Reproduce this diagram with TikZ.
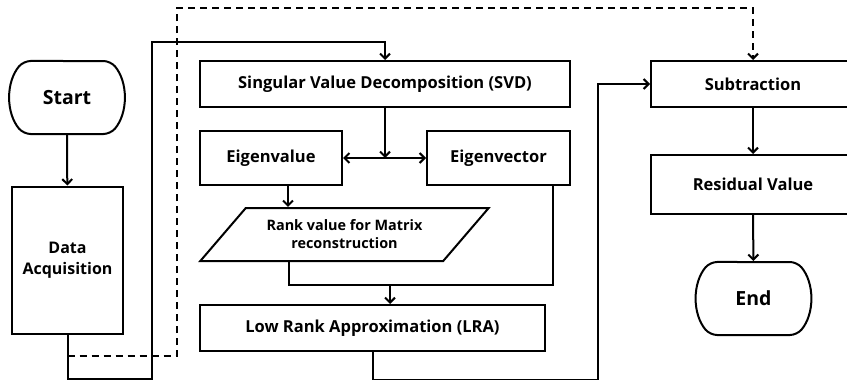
\documentclass[tikz,border=0pt]{standalone}
\usepackage{fontspec}
\setmainfont{Open Sans}
\usetikzlibrary{shapes.misc,shapes.geometric,arrows.meta}

\begin{document}
\begin{tikzpicture}[x=1pt,y=-1pt,->,>={Straight Barb[length=5pt,width=10pt]},line width=2pt,
    box/.style={rectangle,draw,inner sep=2pt,align=center,font=\bfseries\fontsize{16.5}{21}\selectfont},
    term/.style={rounded rectangle,rounded rectangle arc length=80,draw,rounded corners=7pt,minimum width=110,minimum height=73,inner sep=0pt,font=\bfseries\fontsize{19.5}{22}\selectfont}]
    \useasboundingbox (0,0) rectangle (847,380);

    \node[term] (start) at (67,97.5) {Start};
    \node[box, minimum width=111, minimum height=147, font=\bfseries\fontsize{16}{21}\selectfont] (acq) at (67.5,260) {Data\\Acquisition};
    \node[box, minimum width=370, minimum height=46] (svd) at (385,84) {Singular Value Decomposition (SVD)};
    \node[box, minimum width=142, minimum height=54] (eigval) at (271,158) {Eigenvalue};
    \node[box, minimum width=143, minimum height=54] (eigvec) at (498.5,158) {Eigenvector};
    \node[box, trapezium, trapezium left angle=42, trapezium right angle=138, trapezium stretches=true,
          minimum width=289, minimum height=53, font=\bfseries\fontsize{14.4}{18}\selectfont] (rank) at (344.5,234.5) {Rank value for Matrix\\reconstruction};
    \node[box, minimum width=345, minimum height=46] (lra) at (372.5,328) {Low Rank Approximation (LRA)};
    \node[box, minimum width=204, minimum height=46] (sub) at (753,84) {Subtraction};
    \node[box, minimum width=204, minimum height=59] (res) at (753,184.5) {Residual Value};
    \node[term] (end) at (753.5,298.5) {End};
    \coordinate (merge) at (390,285);

    \draw (start) -- (acq);
    \draw (acq.south) -- ++(0,44) -| (152,42) -| (svd.north);
    \draw[dashed, dash pattern=on 7pt off 5pt] ([yshift=-21]acq.south) -| (177,8) -| (sub.north);
    \draw (svd.south) -- (svd.south |- eigval.east);
    \draw[<->] (eigval) -- (eigvec);
    \draw ([xshift=17]eigval.south) -- ([xshift=17]eigval.south |- rank.north);
    \draw[-] ([xshift=-56]rank.south) |- (merge) -| ([xshift=54]eigvec.south);
    \draw (merge) -- (merge |- lra.north);
    \draw (lra.south) -- ++(0,28) -| (598,84) -- (sub.west);
    \draw (sub) -- (res);
    \draw (res) -- (end);
\end{tikzpicture}
\end{document}
